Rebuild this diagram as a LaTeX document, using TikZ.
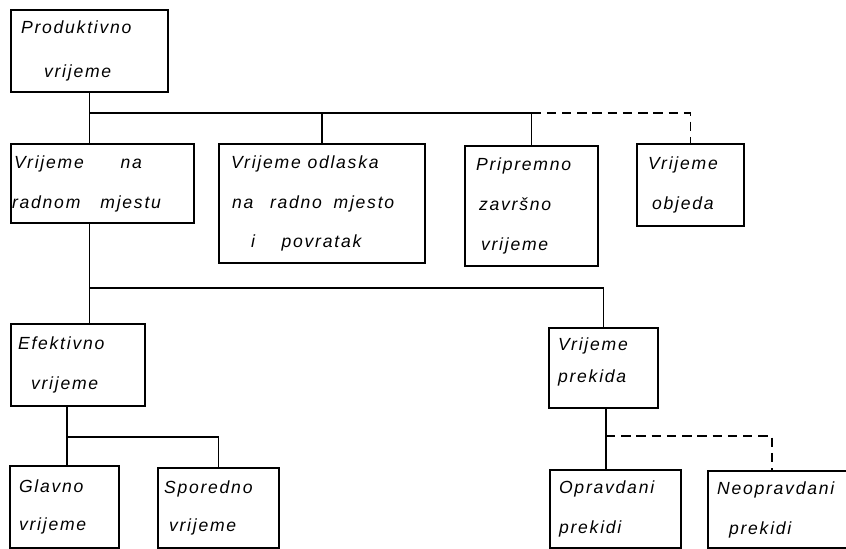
\documentclass[tikz,border=0pt]{standalone}
\usepackage{fontspec}
\newfontfamily\tehpis{Liberation Sans}[LetterSpace=10,WordSpace=1.6]

\begin{document}
\begin{tikzpicture}[x=0.03cm, y=-0.03cm,
    every node/.style={font=\fontsize{15}{34}\tehpis\itshape},
    blok/.style={rectangle, draw, line width=1.8pt, anchor=north west, align=left, inner xsep=0.27cm, inner ysep=0pt},
    veza/.style={line width=1pt},
    crtkano/.style={dash pattern=on 8pt off 5pt}]
                        \useasboundingbox (0,0) rectangle (846,548);
                        \clip (0,0) rectangle (846,548);

                        \node[blok, text width=4.17cm, minimum height=2.46cm] (prod) at (10,9) {\hspace*{0.03cm}Produktivno\\[4pt]\hspace*{0.72cm}vrijeme};
                        \node[blok, text width=4.95cm, minimum height=2.37cm] (radno) at (10,143) {\hspace*{-0.18cm}Vrijeme\hspace{1.1cm}na\\\hspace*{-0.24cm}radnom\hspace{0.6cm}mjestu};
                        \node[blok, text width=5.64cm, minimum height=3.57cm] (odlazak) at (218,143) {\hspace*{0.09cm}Vrijeme\hspace{0.2cm}odlaska\\\hspace*{0.12cm}na\hspace{0.5cm}radno\hspace{0.35cm}mjesto\\\hspace*{0.69cm}i\hspace{0.8cm}povratak};
                        \node[blok, text width=3.45cm, minimum height=3.6cm] (priprem) at (464,145) {\hspace*{0.06cm}Pripremno\\\hspace*{0.15cm}završno\\\hspace*{0.21cm}vrijeme};
                        \node[blok, text width=2.67cm, minimum height=2.46cm] (objed) at (636,143) {\hspace*{0.06cm}Vrijeme\\\hspace*{0.18cm}objeda};

                        \node[blok, text width=3.48cm, minimum height=2.46cm] (efekt) at (10,323) {\hspace*{-0.06cm}Efektivno\\\hspace*{0.33cm}vrijeme};
                        \node[blok, text width=2.73cm, minimum height=2.4cm] (prekid) at (548,327) {Vrijeme\\[-7pt]prekida\vspace{10pt}};

                        \node[blok, text width=2.73cm, minimum height=2.46cm] (glavno) at (9,465) {Glavno\\[-2pt]vrijeme};
                        \node[blok, text width=3.09cm, minimum height=2.4cm] (spored) at (157,467) {\hspace*{-0.09cm}Sporedno\\[-2pt]\hspace*{0.06cm}vrijeme};
                        \node[blok, text width=3.39cm, minimum height=2.34cm] (oprav) at (549,469) {Opravdani\\prekidi};
                        \node[blok, text width=4.05cm, minimum height=2.31cm] (neoprav) at (707,470) {Neopravdani\\\hspace*{0.36cm}prekidi};

                        % prvi nivo
                        \coordinate (g1) at (0,113);
                        \draw[veza] (prod.south) -- (prod.south |- radno.north);
                        \draw[veza] (prod.south |- g1) -| (priprem.north);
                        \draw[veza] (odlazak.north |- g1) -- (odlazak.north);
                        \draw[veza, crtkano] (priprem.north |- g1) -| (objed.north);

                        % drugi nivo
                        \coordinate (g2) at (0,288);
                        \draw[veza] (prod.south |- radno.south) -- (prod.south |- efekt.north);
                        \draw[veza] (prod.south |- g2) -| (prekid.north);

                        % treci nivo
                        \coordinate (g3) at (67,437);
                        \draw[veza] (g3 |- efekt.south) -- (g3 |- glavno.north);
                        \draw[veza] (g3) -| (spored.north);

                        \coordinate (g4) at (606,436);
                        \coordinate (g5) at (772,436);
                        \draw[veza] (g4 |- prekid.south) -- (g4 |- oprav.north);
                        \draw[veza, crtkano] (g4) -- (g5) -- (g5 |- neoprav.north);
                    \end{tikzpicture}
\end{document}
